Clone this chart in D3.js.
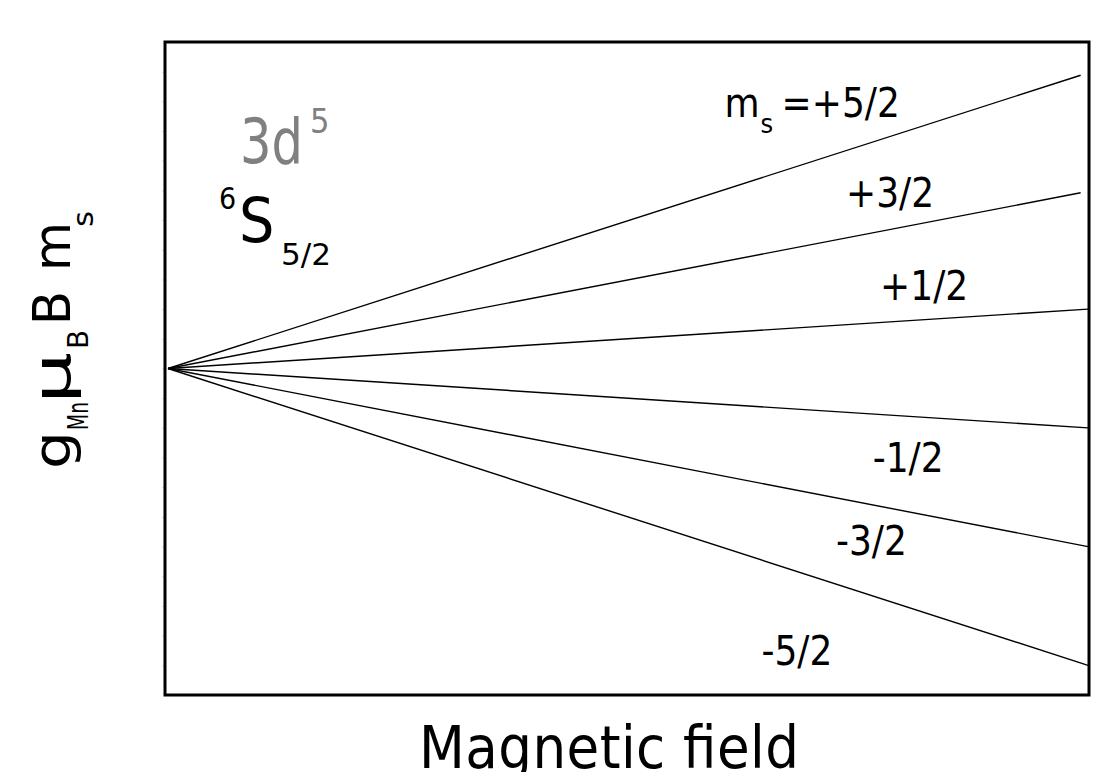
<!DOCTYPE html>
<html><head><meta charset="utf-8">
<script src="https://cdn.jsdelivr.net/npm/d3@7"></script>
<style>
body{margin:0;background:#fff}
svg{display:block}
text{font-family:'DejaVu Sans Condensed','DejaVu Sans',sans-serif}
</style>
</head><body>
<svg id="chart" width="1109" height="772"></svg>
<script>
// ---- data ----
const levels      = ["+5/2", "+3/2", "+1/2", "-1/2", "-3/2", "-5/2"];
const fieldStart  = [0, 0, 0, 0, 0, 0];
const fieldEnd    = [0.992, 0.992, 1, 1, 1, 1];
const energyStart = [0, 0, 0, 0, 0, 0];
const energyEnd   = [2.47, 1.48, 0.50, -0.50, -1.50, -2.50];
const yTickValues = [-2.5,-2.25,-2,-1.75,-1.5,-1.25,-1,-0.75,-0.5,-0.25,0,0.25,0.5,0.75,1,1.25,1.5,1.75,2,2.25,2.5];
const xTitle = "Magnetic field";

// ---- layout ----
const svg = d3.select("#chart");
const box = {left:165, right:1089, top:42, bottom:695};
const x = d3.scaleLinear().domain([0, 1]).range([168, 1088]);
const y = d3.scaleLinear().domain([-2.75, 2.75]).range([695, 42]);

// faint ticks on left axis
const yAxis = d3.axisLeft(y).tickValues(yTickValues).tickSize(3).tickFormat("");
const gy = svg.append("g").attr("transform", `translate(${box.left},0)`).call(yAxis);
gy.select(".domain").remove();
gy.selectAll(".tick line").attr("stroke", "#dcdcdc").attr("stroke-width", 1);

// lines
const line = d3.line().x(d => x(d[0])).y(d => y(d[1]));
levels.forEach((lv, i) => {
  svg.append("path")
    .datum([[fieldStart[i], energyStart[i]], [fieldEnd[i], energyEnd[i]]])
    .attr("d", line)
    .attr("fill", "none")
    .attr("stroke", "#000")
    .attr("stroke-width", 1.4);
});

// frame
svg.append("rect")
  .attr("x", box.left).attr("y", box.top)
  .attr("width", box.right - box.left).attr("height", box.bottom - box.top)
  .attr("fill", "none").attr("stroke", "#000").attr("stroke-width", 3);

// level labels (positions in data units)
const labelAt = [[0.605, 2.115], [0.737, 1.36], [0.774, 0.577], [0.766, -0.872], [0.726, -1.571], [0.645, -2.50]];
levels.forEach((lv, i) => {
  const px = x(labelAt[i][0]), py = y(labelAt[i][1]);
  if (i === 0) {
    const t = svg.append("text").attr("x", px).attr("y", py).attr("font-size", 40).attr("fill", "#000");
    t.append("tspan").text("m");
    t.append("tspan").attr("x", px + 36).attr("y", py + 16).attr("font-size", 27).text("s");
    t.append("tspan").attr("x", px + 57).attr("y", py).text("=" + lv);
  } else {
    svg.append("text").attr("x", px).attr("y", py).attr("font-size", 40).attr("fill", "#000").text(lv);
  }
});

// 3d^5
svg.append("text").attr("x", 240).attr("y", 163).attr("font-size", 62).attr("fill", "#808080")
  .attr("textLength", 63).attr("lengthAdjust", "spacingAndGlyphs").text("3d");
svg.append("text").attr("x", 310).attr("y", 133).attr("font-size", 34).attr("fill", "#808080").text("5");

// 6S5/2
svg.append("text").attr("x", 219).attr("y", 209).attr("font-size", 30).attr("fill", "#000").text("6");
svg.append("text").attr("x", 239).attr("y", 242).attr("font-size", 62).attr("fill", "#000").text("S");
svg.append("text").attr("x", 281).attr("y", 265).attr("font-size", 31).attr("fill", "#000")
  .attr("textLength", 50).attr("lengthAdjust", "spacingAndGlyphs").text("5/2");

// x title
svg.append("text").attr("x", 419).attr("y", 768).attr("font-size", 59).attr("fill", "#000")
  .attr("textLength", 380).attr("lengthAdjust", "spacing").text(xTitle);

// y title (rotated), pieces placed along reading direction
const yt = svg.append("text").attr("transform", "translate(70,467) rotate(-90)").attr("fill", "#000");
const big = 52, sub = 28, subDy = 18;
yt.append("tspan").attr("x", -2).attr("y", 0).attr("font-size", big)
  .attr("textLength", 38).attr("lengthAdjust", "spacingAndGlyphs").text("g");
yt.append("tspan").attr("x", 37).attr("y", subDy).attr("font-size", sub)
  .attr("textLength", 28).attr("lengthAdjust", "spacingAndGlyphs").text("Mn");
yt.append("tspan").attr("x", 63).attr("y", 0).attr("font-size", big)
  .attr("textLength", 52).attr("lengthAdjust", "spacingAndGlyphs").text("μ");
yt.append("tspan").attr("x", 118).attr("y", subDy).attr("font-size", sub)
  .attr("textLength", 19).attr("lengthAdjust", "spacingAndGlyphs").text("B");
yt.append("tspan").attr("x", 142).attr("y", 0).attr("font-size", big)
  .attr("textLength", 34).attr("lengthAdjust", "spacingAndGlyphs").text("B");
yt.append("tspan").attr("x", 196).attr("y", 0).attr("font-size", big)
  .attr("textLength", 49).attr("lengthAdjust", "spacingAndGlyphs").text("m");
yt.append("tspan").attr("x", 240).attr("y", subDy + 5).attr("font-size", sub)
  .attr("textLength", 16).attr("lengthAdjust", "spacingAndGlyphs").text("s");
</script>
</body></html>
